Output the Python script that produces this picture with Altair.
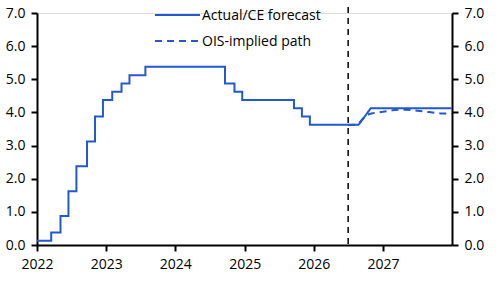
import altair as alt
import pandas as pd

# Policy rate (mid-point of target range), actual moves
start_date = "2022-01-01"
start_rate = 0.125
change_dates = ["2022-03-17", "2022-05-05", "2022-06-16", "2022-07-28", "2022-09-22",
                "2022-11-03", "2022-12-15", "2023-02-02", "2023-03-23", "2023-05-04",
                "2023-07-27", "2024-09-19", "2024-11-08", "2024-12-19", "2025-09-18",
                "2025-10-30", "2025-12-11"]
policy_rates = [0.375, 0.875, 1.625, 2.375, 3.125, 3.875, 4.375, 4.625, 4.875, 5.125,
                5.375, 4.875, 4.625, 4.375, 4.125, 3.875, 3.625]

# CE forecast
forecast_dates = ["2026-08-25", "2026-10-28", "2027-12-31"]
forecast_rates = [3.625, 4.125, 4.125]

# OIS-implied path
ois_dates = ["2026-07-01", "2026-08-20", "2026-09-15", "2026-10-10", "2026-11-01",
             "2026-12-01", "2027-01-01", "2027-02-01", "2027-03-01", "2027-04-01",
             "2027-05-01", "2027-06-01", "2027-07-01", "2027-08-01", "2027-09-01",
             "2027-10-01", "2027-11-01", "2027-12-31"]
ois_rates = [3.62, 3.63, 3.80, 3.93, 3.97, 4.00, 4.02, 4.05, 4.07, 4.08,
             4.08, 4.07, 4.05, 4.03, 4.01, 3.99, 3.97, 3.96]

forecast_start = "2026-07-01"
year_ticks = [2022, 2023, 2024, 2025, 2026, 2027]
series_names = ["Actual/CE forecast", "OIS-implied path"]

BLUE = "#2258d2"
FONT = "Open Sans"
DASH = [7, 5]

# Build step corners for the actual path, then append the forecast
rows = [(start_date, start_rate)]
prev = start_rate
for d, v in zip(change_dates, policy_rates):
    rows.append((d, prev))
    rows.append((d, v))
    prev = v
rows += list(zip(forecast_dates, forecast_rates))
actual = pd.DataFrame(rows, columns=["date", "rate"])
actual["series"] = series_names[0]
actual["i"] = range(len(actual))

ois = pd.DataFrame({"date": ois_dates, "rate": ois_rates})
ois["series"] = series_names[1]
ois["i"] = range(len(ois))

data = pd.concat([actual, ois], ignore_index=True)

x_scale = alt.Scale(domain=["2022-01-01", "2027-12-31"])
y_scale = alt.Scale(domain=[0, 7])
dash_scale = alt.Scale(domain=series_names, range=[[1, 0], DASH])

axis_common = dict(
    domainColor="black", domainWidth=2, tickColor="black", tickWidth=2, tickSize=6,
    labelFont=FONT, labelFontSize=14, labelColor="black", grid=False, title=None,
    labelFlush=False,
)
y_ticks = [0, 1, 2, 3, 4, 5, 6, 7]

lines = alt.Chart(data).mark_line(strokeWidth=2, color=BLUE).encode(
    x=alt.X("date:T", scale=x_scale,
            axis=alt.Axis(values=[alt.DateTime(year=y, month=1, date=1) for y in year_ticks],
                          format="%Y", labelPadding=6, **axis_common)),
    y=alt.Y("rate:Q", scale=y_scale,
            axis=alt.Axis(orient="left", values=y_ticks, format=".1f",
                          labelPadding=6, **axis_common)),
    strokeDash=alt.StrokeDash("series:N", scale=dash_scale, legend=None),
    detail="series:N",
    order="i:Q",
)

right_axis = alt.Chart(pd.DataFrame({"rate": [0]})).mark_rule(opacity=0).encode(
    y=alt.Y("rate:Q", scale=y_scale,
            axis=alt.Axis(orient="right", values=y_ticks, format=".1f",
                          labelPadding=6, **axis_common)),
)

divider = alt.Chart(pd.DataFrame({"date": [forecast_start]})).mark_rule(
    color="black", strokeWidth=1.5, strokeDash=[6, 5]
).encode(
    x=alt.X("date:T", scale=x_scale),
    y=alt.value(-6),
    y2=alt.value(232),
)

# Legend key: one row per series
legend_rows = pd.DataFrame({"series": series_names, "row": [0, 1]})
legend_y = alt.Y("row:Q", scale=alt.Scale(domain=[0, 1], range=[2, 28]), axis=None)
legend_lines = alt.Chart(legend_rows).mark_rule(strokeWidth=2, color=BLUE).encode(
    x=alt.value(118), x2=alt.value(163), y=legend_y,
    strokeDash=alt.StrokeDash("series:N", scale=dash_scale, legend=None),
)
legend_text = alt.Chart(legend_rows).mark_text(
    align="left", baseline="middle", font=FONT, fontSize=14, color="black", dy=1
).encode(
    x=alt.value(165), y=legend_y, text="series:N",
)

chart = (
    alt.layer(divider, lines, right_axis, legend_lines, legend_text)
    .resolve_axis(y="independent")
    .resolve_scale(y="independent")
    .properties(
        width=415, height=232,
        padding={"left": 37, "top": 13, "right": 47, "bottom": 39},
        autosize=alt.AutoSizeParams(type="none"),
    )
    .configure_view(stroke=None)
    .configure(background="white")
)

chart.save("out.html", embed_options={"renderer": "svg", "actions": False})
